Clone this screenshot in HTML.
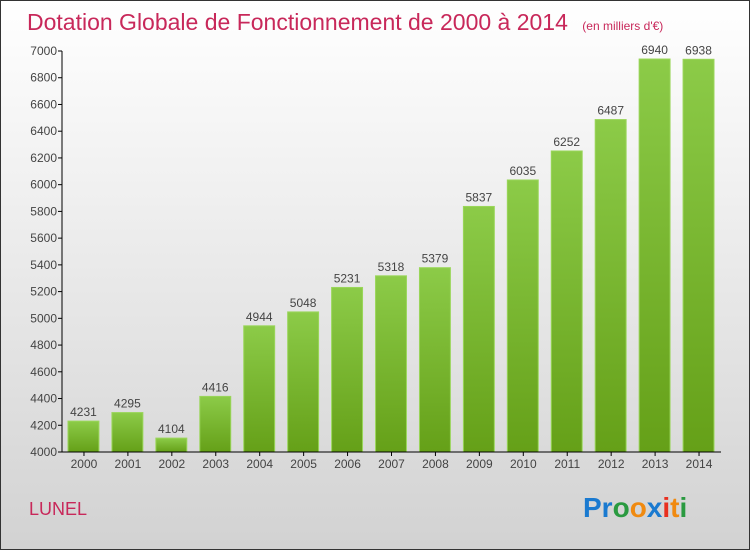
<!DOCTYPE html>
<html><head><meta charset="utf-8"><style>
body{margin:0}
#c{width:750px;height:550px;position:relative;box-sizing:border-box;border:1px solid #333;background:linear-gradient(#ffffff,#f2f2f2 30%,#d2d2d2);font-family:"Liberation Sans",sans-serif;overflow:hidden}
svg{position:absolute;left:0;top:0}
</style></head><body>
<div id="c">
<svg width="750" height="550" id="s">
<defs><linearGradient id="g" x1="0" y1="0" x2="0" y2="1"><stop offset="0" stop-color="#8ccb48"/><stop offset="1" stop-color="#65a018"/></linearGradient></defs>
<text x="26" y="29" font-size="23" fill="#c8285a">Dotation Globale de Fonctionnement de 2000 à 2014 <tspan font-size="12" dx="8">(en milliers d'€)</tspan></text>
<text x="28" y="514" font-size="18" fill="#c8285a">LUNEL</text>
<g font-size="28" font-weight="bold">
<text x="582" y="516"><tspan fill="#1a7ad0">Pr</tspan><tspan fill="#2a9a40">o</tspan><tspan fill="#f08a10">o</tspan><tspan fill="#1a7ad0">x</tspan><tspan fill="#e83020">i</tspan><tspan fill="#f08a10">t</tspan><tspan fill="#2a9a40">i</tspan></text>
</g>
</svg>
</div>
<script>
const categories=["2000","2001","2002","2003","2004","2005","2006","2007","2008","2009","2010","2011","2012","2013","2014"];
const values=[4231,4295,4104,4416,4944,5048,5231,5318,5379,5837,6035,6252,6487,6940,6938];
const yTicks=[4000,4200,4400,4600,4800,5000,5200,5400,5600,5800,6000,6200,6400,6600,6800,7000];
const NS="http://www.w3.org/2000/svg";
const s=document.getElementById('s');
const x0=61,x1=720,yTop=50,yBot=451,vMin=4000,vMax=7000;
const band=(x1-x0)/categories.length;
const y=v=>yBot-(v-vMin)/(vMax-vMin)*(yBot-yTop);
const xb=i=>x0+i*band;
function mk(t,a){const e=document.createElementNS(NS,t);for(const k in a)e.setAttribute(k,a[k]);s.appendChild(e);return e;}
yTicks.forEach(t=>{
 const l=mk('line',{x1:x0-4,x2:x0,y1:y(t),y2:y(t),stroke:'#000'});
 
 
 const tx=mk('text',{x:x0-5,y:y(t)+4,'font-size':12,fill:'#444','text-anchor':'end'});
 tx.textContent=t;
 
 
});
categories.forEach((c,i)=>{
 const bx=xb(i)+6,bw=band-13;
 const r=mk('rect',{x:bx,y:y(values[i]),width:bw,height:yBot-y(values[i]),fill:'url(#g)',stroke:'#9ad65a','stroke-width':1});
 
 
 const v=mk('text',{x:bx+bw/2,y:y(values[i])-5,'font-size':12,fill:'#444','text-anchor':'middle'});
 v.textContent=values[i];
 
 
 const tk=mk('line',{x1:xb(i)+band/2,x2:xb(i)+band/2,y1:yBot,y2:yBot+4,stroke:'#000'});
 
 
 const l=mk('text',{x:xb(i)+band/2,y:yBot+16,'font-size':12,fill:'#444','text-anchor':'middle'});
 l.textContent=c;
 
 
});
const ya=mk('line',{x1:x0,x2:x0,y1:yTop,y2:yBot,stroke:'#000'});


const xa=mk('line',{x1:x0,x2:x1,y1:yBot,y2:yBot,stroke:'#000'});


</script>
</body></html>
